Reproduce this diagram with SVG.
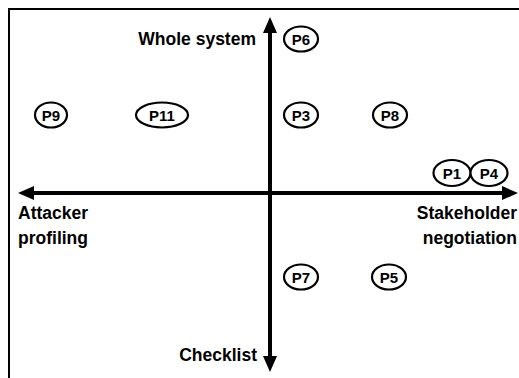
<svg xmlns="http://www.w3.org/2000/svg" width="519" height="378" viewBox="0 0 519 378">
<style>
.lbl{font-family:"Liberation Sans",Arial,sans-serif;font-weight:bold;font-size:17.5px;fill:#000}
.nd ellipse{fill:#fff;stroke:#000;stroke-width:2.2}
.nd text{font-family:"Liberation Sans",Arial,sans-serif;font-weight:bold;font-size:15px;fill:#000;text-anchor:middle}
.ax{stroke:#000;stroke-width:4;fill:none}
</style>
<rect width="519" height="378" fill="#fff"/>
<path d="M9 378 V9 H519" fill="none" stroke="#000" stroke-width="2"/>
<g id="connectors">
<line class="ax" x1="270" y1="30" x2="270" y2="358"/>
<polygon points="270,17 263,33 277,33" fill="#000"/>
<polygon points="270,372 263,356 277,356" fill="#000"/>
<line class="ax" x1="32" y1="193" x2="504" y2="193"/>
<polygon points="18,193 34,186 34,200" fill="#000"/>
<polygon points="518,193 502,186 502,200" fill="#000"/>
</g>
<g id="labels">
<text class="lbl" x="256" y="45" text-anchor="end">Whole system</text>
<text class="lbl" x="18" y="219">Attacker</text>
<text class="lbl" x="18" y="244">profiling</text>
<text class="lbl" x="517" y="219" text-anchor="end">Stakeholder</text>
<text class="lbl" x="517" y="244" text-anchor="end">negotiation</text>
<text class="lbl" x="257" y="361" text-anchor="end">Checklist</text>
</g>
<g id="P6" class="nd"><ellipse cx="301" cy="39" rx="17" ry="12.5"/><text x="301" y="44.5">P6</text></g>
<g id="P9" class="nd"><ellipse cx="51" cy="115" rx="16" ry="12.5"/><text x="51" y="120.5">P9</text></g>
<g id="P11" class="nd"><ellipse cx="162" cy="115" rx="26" ry="12.5"/><text x="162" y="120.5">P11</text></g>
<g id="P3" class="nd"><ellipse cx="301" cy="115" rx="17" ry="12.5"/><text x="301" y="120.5">P3</text></g>
<g id="P8" class="nd"><ellipse cx="390" cy="115" rx="17" ry="12.5"/><text x="390" y="120.5">P8</text></g>
<g id="P1" class="nd"><ellipse cx="452" cy="173" rx="18.5" ry="13"/><text x="452" y="178.5">P1</text></g>
<g id="P4" class="nd"><ellipse cx="489" cy="173" rx="18.5" ry="13"/><text x="489" y="178.5">P4</text></g>
<g id="P7" class="nd"><ellipse cx="301" cy="277" rx="17" ry="12.5"/><text x="301" y="282.5">P7</text></g>
<g id="P5" class="nd"><ellipse cx="389" cy="277" rx="17" ry="12.5"/><text x="389" y="282.5">P5</text></g>
</svg>
